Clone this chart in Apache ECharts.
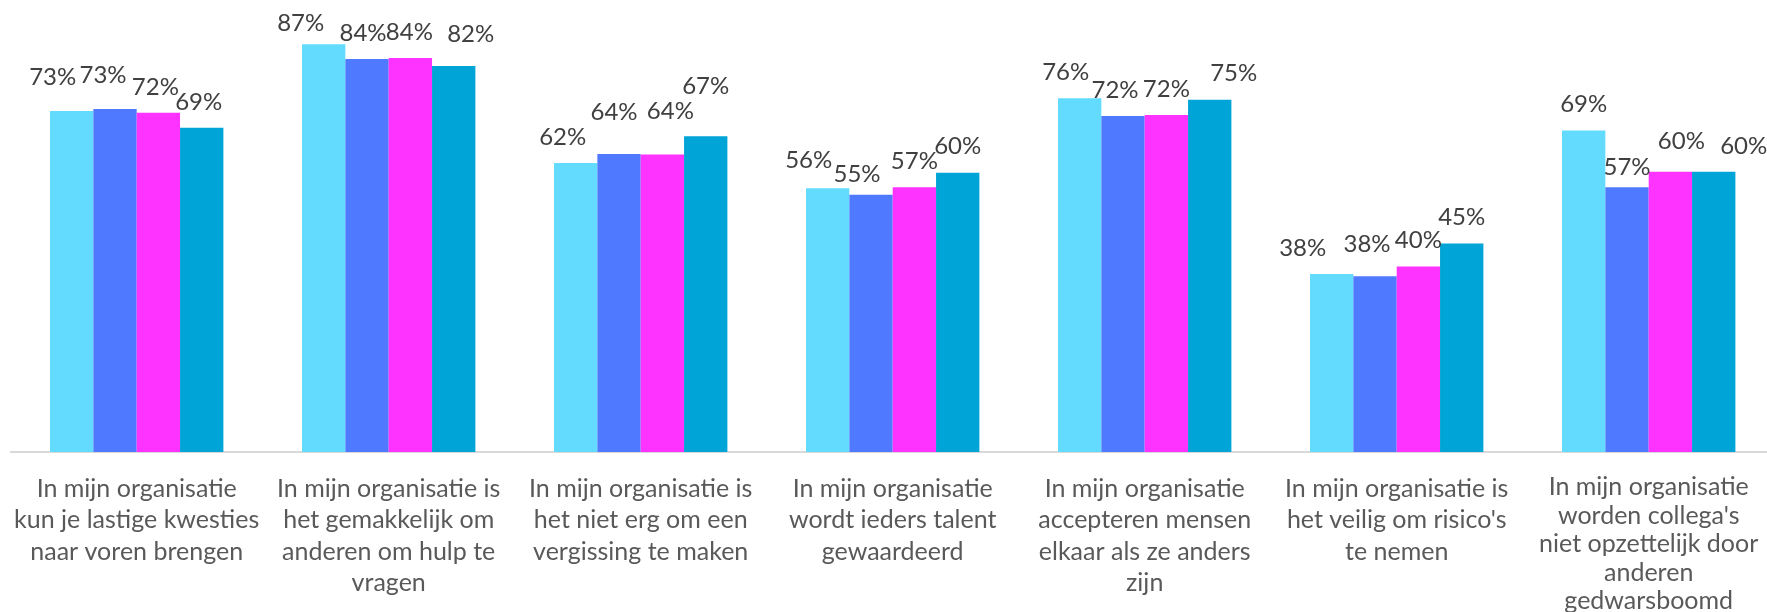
<!DOCTYPE html>
<html>
<head>
<meta charset="utf-8">
<script src="https://cdn.jsdelivr.net/npm/echarts@6/dist/echarts.min.js"></script>
<style>
html,body{margin:0;padding:0;background:#fff;}
#chart{width:1767px;height:612px;}
</style>
</head>
<body>
<div id="chart"></div>
<script>
// Categories (line breaks as in the original chart)
const categories = [
  "In mijn organisatie\nkun je lastige kwesties\nnaar voren brengen",
  "In mijn organisatie is\nhet gemakkelijk om\nanderen om hulp te\nvragen",
  "In mijn organisatie is\nhet niet erg om een\nvergissing te maken",
  "In mijn organisatie\nwordt ieders talent\ngewaardeerd",
  "In mijn organisatie\naccepteren mensen\nelkaar als ze anders\nzijn",
  "In mijn organisatie is\nhet veilig om risico's\nte nemen",
  "In mijn organisatie\nworden collega's\nniet opzettelijk door\nanderen\ngedwarsboomd"
];

// Series values (percent)
const serie1 = [72.8, 87.0, 61.7, 56.3, 75.5, 38.0, 68.6];
const serie2 = [73.2, 83.9, 63.6, 54.9, 71.7, 37.5, 56.5];
const serie3 = [72.4, 84.1, 63.5, 56.5, 71.9, 39.6, 59.8];
const serie4 = [69.2, 82.4, 67.4, 59.6, 75.2, 44.5, 59.8];

const seriesNames = ["Serie 1", "Serie 2", "Serie 3", "Serie 4"];
const seriesColors = ["#63DBFF", "#4F7AFF", "#FF33FF", "#00A4D6"];

// Manual label shifts (layout only), [dx, dy] per category for each series
const labelShifts = [
  [[-19,-8],[-23,5],[-13,0],[-19,-2],[-14,0],[-29,0],[0,0]],
  [[-12,-8],[-4,0],[-5,-16],[-14,6],[-8,0],[-8,-6],[0,6]],
  [[-3,0],[-1,0],[8,-17],[0,0],[0,0],[0,0],[11,-5]],
  [[-3,1],[17,-6],[0,-24],[0,0],[24,0],[0,0],[30,0]]
];

const allValues = [serie1, serie2, serie3, serie4];
const FONT = "Lato, 'Open Sans', sans-serif";

const series = allValues.map((vals, si) => ({
  name: seriesNames[si],
  type: 'bar',
  barGap: '0%',
  barCategoryGap: '31.2%',
  itemStyle: { color: seriesColors[si] },
  data: vals.map((v, ci) => ({
    value: v,
    label: { offset: labelShifts[si][ci] }
  })),
  label: {
    show: true,
    position: 'top',
    distance: 14,
    color: '#404040',
    fontFamily: FONT,
    fontSize: 24,
    formatter: p => Math.round(p.value) + '%'
  }
}));

const chart = echarts.init(document.getElementById('chart'), null, { renderer: 'canvas' });
chart.setOption({
  animation: false,
  grid: { left: 10.7, width: 1764, top: 30.3, bottom: 160, containLabel: false, outerBoundsMode: 'none' },
  xAxis: {
    type: 'category',
    data: categories,
    axisLine: { show: true, lineStyle: { color: '#D9D9D9', width: 2 } },
    axisTick: { show: false },
    axisLabel: {
      interval: 0,
      color: '#595959',
      fontFamily: FONT,
      fontSize: 25,
      lineHeight: 31.5,
      margin: 21,
      formatter: (val, idx) => {
        const lines = val.split('\n');
        if (lines.length > 4) {
          return lines.map(l => '{t|' + l + '}').join('\n');
        }
        return val;
      },
      rich: {
        t: {
          color: '#595959',
          fontFamily: FONT,
          fontSize: 25,
          lineHeight: 28.5
        }
      }
    }
  },
  yAxis: {
    type: 'value',
    min: 0,
    max: 90,
    show: false,
    splitLine: { show: false }
  },
  series: series
});
</script>
</body>
</html>
